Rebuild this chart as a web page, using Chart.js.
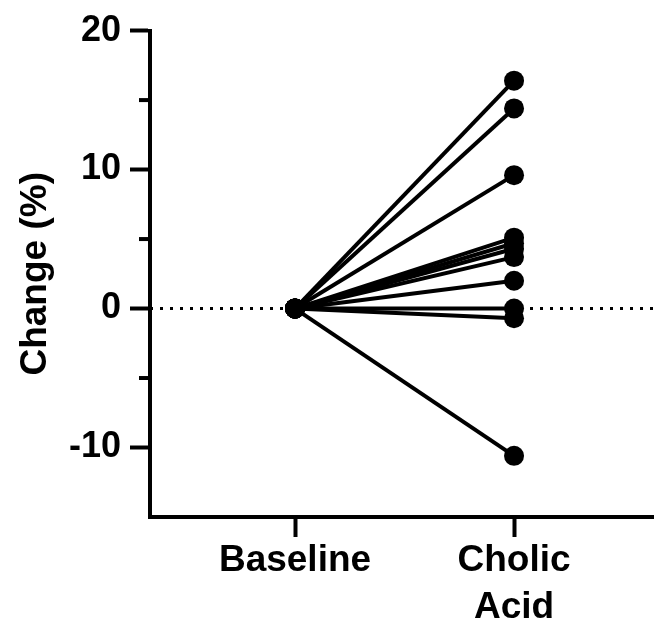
<!DOCTYPE html>
<html>
<head>
<meta charset="utf-8">
<script src="https://cdn.jsdelivr.net/npm/chart.js@4/dist/chart.umd.min.js"></script>
<style>
  html, body { margin: 0; padding: 0; background: #fff; }
  #wrap { width: 654px; height: 619px; }
</style>
</head>
<body>
<div id="wrap"><canvas id="c" width="654" height="619"></canvas></div>
<script>
// ---- data ----
const categories = ['Baseline', ['Cholic', 'Acid']];
const baselineValues = [0, 0, 0, 0, 0, 0, 0, 0, 0, 0, 0];
const cholicValues = [16.4, 14.4, 9.6, 5.1, 4.7, 4.3, 3.7, 2.0, 0.0, -0.7, -10.6];
const yMajorTicks = [-10, 0, 10, 20];
const yMinorTicks = [15, 5, -5];
const yRange = [-15, 20];
const xRange = [0.338, 2.639];

const FONT = '"Liberation Sans", Arial, sans-serif';

const datasets = cholicValues.map((v, i) => ({
  data: [{x: 1, y: baselineValues[i]}, {x: 2, y: v}],
  borderColor: '#000',
  backgroundColor: '#000',
  borderWidth: 4,
  pointRadius: 10,
  pointHoverRadius: 10,
  pointBorderWidth: 0,
  pointBackgroundColor: '#000',
  clip: false,
  order: 0
}));
datasets.push({
  data: [{x: xRange[0], y: 0}, {x: xRange[1], y: 0}],
  borderColor: '#000',
  borderWidth: 3,
  borderDash: [3, 7],
  pointRadius: 0,
  clip: false,
  order: 1
});

const minorTicks = {
  id: 'minorTicks',
  afterDraw(chart) {
    const y = chart.scales.y;
    const ctx = chart.ctx;
    const x0 = chart.chartArea.left;
    ctx.save();
    ctx.strokeStyle = '#000';
    ctx.lineWidth = 4;
    yMinorTicks.forEach(v => {
      const py = y.getPixelForValue(v);
      ctx.beginPath();
      ctx.moveTo(x0 - 11, py);
      ctx.lineTo(x0, py);
      ctx.stroke();
    });
    ctx.restore();
  }
};

new Chart(document.getElementById('c'), {
  type: 'line',
  data: { datasets },
  plugins: [minorTicks],
  options: {
    responsive: false,
    animation: false,
    layout: { autoPadding: false, padding: { top: 28, right: 0, left: 0, bottom: 0 } },
    plugins: { legend: { display: false }, tooltip: { enabled: false } },
    scales: {
      x: {
        type: 'linear',
        min: xRange[0],
        max: xRange[1],
        afterBuildTicks(scale) { scale.ticks = [{value: 1}, {value: 2}]; },
        afterFit(scale) { scale.height = 102; },
        grid: { display: true, drawOnChartArea: false, drawTicks: true, tickLength: 20, tickWidth: 4, tickColor: '#000' },
        border: { display: true, width: 4, color: '#000' },
        ticks: {
          color: '#000',
          padding: 1,
          maxRotation: 0,
          autoSkip: false,
          font: { family: FONT, size: 37, weight: 'bold', lineHeight: 1.25 },
          callback(value, index) { return categories[index]; }
        }
      },
      y: {
        type: 'linear',
        min: yRange[0],
        max: yRange[1],
        afterBuildTicks(scale) { scale.ticks = yMajorTicks.map(v => ({value: v})); },
        afterFit(scale) { scale.width = 150; },
        grid: { display: true, drawOnChartArea: false, drawTicks: true, tickLength: 20, tickWidth: 4, tickColor: '#000' },
        border: { display: true, width: 4, color: '#000' },
        ticks: {
          color: '#000',
          padding: 9,
          autoSkip: false,
          font: { family: FONT, size: 36, weight: 'bold' }
        },
        title: {
          display: true,
          text: 'Change (%)',
          color: '#000',
          padding: { top: 14, bottom: 0 },
          font: { family: FONT, size: 37, weight: 'bold' }
        }
      }
    }
  }
});
</script>
</body>
</html>
